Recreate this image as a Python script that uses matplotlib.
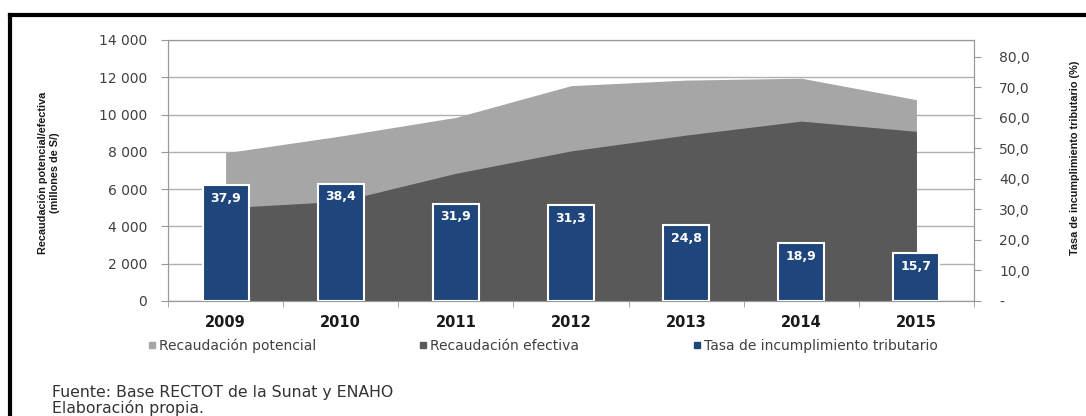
import matplotlib.pyplot as plt
from matplotlib import font_manager as fm
from matplotlib.ticker import FuncFormatter, FixedLocator
from matplotlib.lines import Line2D

years = ["2009", "2010", "2011", "2012", "2013", "2014", "2015"]
potencial = [7950, 8850, 9850, 11550, 11850, 11950, 10800]
efectiva = [5000, 5350, 6850, 8050, 8900, 9650, 9100]
tasa = [37.9, 38.4, 31.9, 31.3, 24.8, 18.9, 15.7]
legend_labels = ["Recaudación potencial", "Recaudación efectiva", "Tasa de incumplimiento tributario"]

c_pot = "#a6a6a6"
c_efe = "#595959"
c_bar = "#1f467c"
grid_c = "#b0b0b0"
txt_c = "#404040"

# narrow font for the axis titles, if one is around
names = {f.name for f in fm.fontManager.ttflist}
if "Liberation Sans Narrow" in names:
    narrow = dict(family="Liberation Sans Narrow", fontsize=11)
elif "DejaVu Sans Condensed" in names:
    narrow = dict(family="DejaVu Sans Condensed", fontsize=9.5)
else:
    narrow = dict(family="Liberation Sans", fontsize=7.8)

fig = plt.figure(figsize=(10.86, 4.16), dpi=100)
ax = fig.add_axes([168 / 1086, 115 / 416, 806 / 1086, 261 / 416])
x = list(range(len(years)))

ax.fill_between(x, 0, potencial, color=c_pot, lw=0, zorder=2)
ax.fill_between(x, 0, efectiva, color=c_efe, lw=0, zorder=3)
ax.set_xlim(-0.5, len(years) - 0.5)
ax.set_ylim(0, 14000)
ax.set_yticks(range(0, 14001, 2000))
ax.yaxis.set_major_formatter(FuncFormatter(lambda v, p: f"{int(v):,}".replace(",", " ")))
ax.grid(axis="y", color=grid_c, lw=1, zorder=1)
ax.set_axisbelow(True)
ax.set_xticks(x)
ax.set_xticklabels(years, fontsize=10.5, fontweight="bold", color="#1a1a1a")
ax.xaxis.set_minor_locator(FixedLocator([i + 0.5 for i in range(-1, len(years))]))
ax.tick_params(axis="x", which="major", length=0, pad=10)
ax.tick_params(axis="x", which="minor", length=4, color="#999999")
ax.tick_params(axis="y", length=5, color="#999999", labelsize=10, labelcolor=txt_c, pad=10)
for s in ["left", "bottom", "right", "top"]:
    ax.spines[s].set_color("#999999")
ax.set_ylabel("Recaudación potencial/efectiva\n(millones de S/)", fontweight="bold",
              color="#1a1a1a", linespacing=1.2, **narrow)
ax.yaxis.set_label_coords((49 - 168) / 806, 0.49)
ax.yaxis.label.set_va("center")

ax2 = ax.twinx()
bars = ax2.bar(x, tasa, width=0.4, color=c_bar, edgecolor="white", lw=1.5, zorder=4)
ax2.set_ylim(0, 85.5)
ax2.set_yticks(range(0, 81, 10))
ax2.yaxis.set_major_formatter(FuncFormatter(lambda v, p: "-" if v == 0 else f"{v:.1f}".replace(".", ",")))
ax2.tick_params(axis="y", length=5, color="#999999", labelsize=10, labelcolor=txt_c, pad=13)
for s in ["left", "bottom", "right", "top"]:
    ax2.spines[s].set_color("#999999")
ax2.set_ylabel("Tasa de incumplimiento tributario (%)", fontweight="bold", color="#1a1a1a", **narrow)
ax2.yaxis.set_label_coords((1075 - 168) / 806, 0.55)
ax2.yaxis.label.set_va("center")

for b, v in zip(bars, tasa):
    ax2.annotate(f"{v:.1f}".replace(".", ","), (b.get_x() + b.get_width() / 2, b.get_height()),
                 xytext=(0, -9.5), textcoords="offset points", ha="center", va="center",
                 color="white", fontsize=9, fontweight="bold", zorder=5)

handles = [
    Line2D([], [], marker="s", ls="", color=c_pot, markersize=4),
    Line2D([], [], marker="s", ls="", color=c_efe, markersize=4),
    Line2D([], [], marker="s", ls="", color=c_bar, markersize=4),
]
for h, lab, px in zip(handles, legend_labels, [146, 417, 691]):
    fig.legend([h], [lab], loc="center left", bbox_to_anchor=(px / 1086, 1 - 346 / 416),
               frameon=False, fontsize=10, labelcolor=txt_c, handletextpad=0.15,
               handlelength=0.8, borderpad=0, borderaxespad=0)

fig.text(52 / 1086, 1 - 393 / 416, "Fuente: Base RECTOT de la Sunat y ENAHO", fontsize=11.3,
         color="#333333", va="center")
fig.text(52 / 1086, 1 - 408 / 416, "Elaboración propia.", fontsize=11.3, color="#333333", va="center")

fig.add_artist(Line2D([10 / 1086, 10 / 1086], [0, 1 - 15 / 416], color="black", lw=3))
fig.add_artist(Line2D([10 / 1086, 1], [1 - 15 / 416, 1 - 15 / 416], color="black", lw=3))

fig.savefig("out.png", dpi=100)
